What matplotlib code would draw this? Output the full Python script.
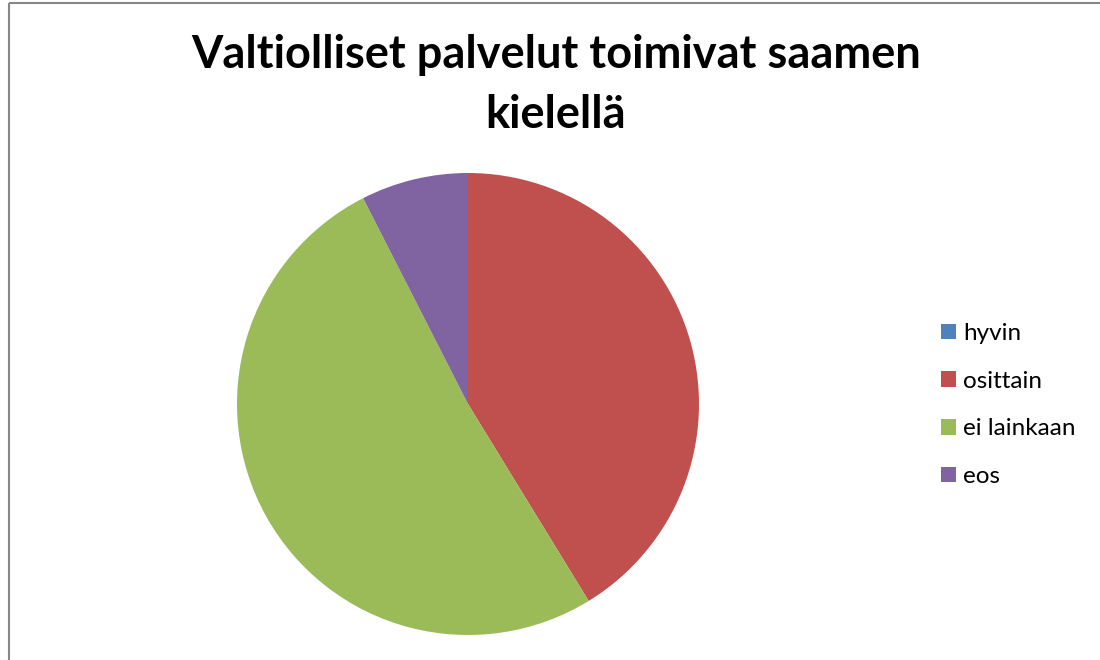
import matplotlib
matplotlib.use("Agg")
import matplotlib.pyplot as plt
from matplotlib.lines import Line2D

# Survey answers (share of respondents)
categories = ["hyvin", "osittain", "ei lainkaan", "eos"]
values = [0, 33, 41, 6]
colors = ["#4F81BD", "#C0504D", "#9BBB59", "#8064A2"]
title = "Valtiolliset palvelut toimivat saamen\nkielellä"

plt.rcParams["font.family"] = ["Lato", "DejaVu Sans"]

W, H = 1100, 660
fig = plt.figure(figsize=(W / 100, H / 100), dpi=100)

# pie axes: centre (468, 404) px, radius 231 px
cx, cy, r = 468, 404, 231
ax = fig.add_axes([(cx - r) / W, (H - cy - r) / H, 2 * r / W, 2 * r / H])
wedges, _ = ax.pie(values, colors=colors, startangle=90, counterclock=False,
                   radius=1.0, wedgeprops=dict(linewidth=0))
ax.set_xlim(-1, 1)
ax.set_ylim(-1, 1)
ax.set_aspect("equal")
ax.axis("off")

fig.text(556 / W, 1 - 85 / H, title, ha="center", va="center",
         fontsize=32.5, fontweight="bold", linespacing=1.52, color="black")

fig.legend(wedges, categories, loc="center left",
           bbox_to_anchor=(941 / W, 1 - 405 / H), frameon=False,
           fontsize=17.5, handlelength=0.6, handleheight=0.6,
           handletextpad=0.3, labelspacing=1.1, borderaxespad=0,
           borderpad=0)

# chart frame (left and top edges)
fig.add_artist(Line2D([8.5 / W, 8.5 / W], [0, 1 - 2.5 / H], transform=fig.transFigure,
                      color="#868686", linewidth=1.5, solid_capstyle="butt"))
fig.add_artist(Line2D([8.5 / W, 1], [1 - 2.5 / H, 1 - 2.5 / H], transform=fig.transFigure,
                      color="#868686", linewidth=1.5, solid_capstyle="butt"))

fig.savefig("out.png", dpi=100, facecolor="white")
